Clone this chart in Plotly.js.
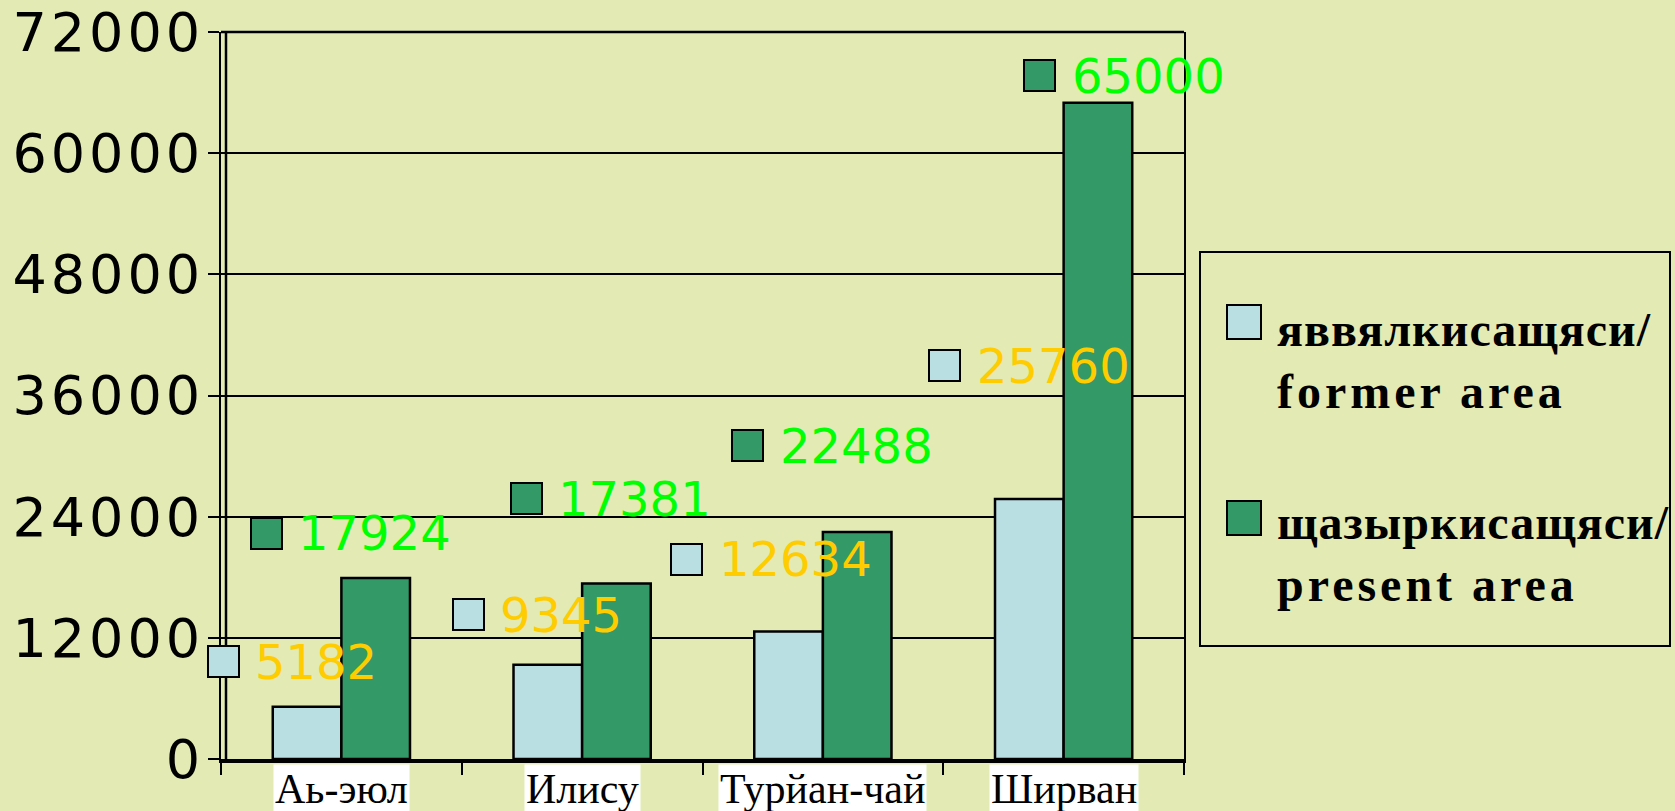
<!DOCTYPE html>
<html><head><meta charset="utf-8">
<script src="https://cdn.plot.ly/plotly-3.0.1.min.js"></script>
<style>html,body{margin:0;padding:0;background:#E3EAB4;overflow:hidden;} #chart{width:1675px;height:811px;}</style>
</head><body><div id="chart"></div>
<script>
// ---- data ----
const categories = ["Аь-эюл", "Илису", "Турйан-чай", "Ширван"];
const formerArea = [5182, 9345, 12634, 25760];
const presentArea = [17924, 17381, 22488, 65000];
const formerName = ["яввялкисащяси/", "former area"];
const presentName = ["щазыркисащяси/", "present area"];
const yTickVals = [0, 12000, 24000, 36000, 48000, 60000, 72000];

// ---- label placement (pixel offsets from bar top at category centre) ----
const formerLabelShift = [[-118, 45], [-114, 50], [-136, 72], [-119, 133]];
const presentLabelShift = [[-75, 45], [-56, 85], [-75, 86], [-24, 27]];

const W = 1675, H = 811, M = {l: 221, r: 491, t: 32, b: 52};
const BG = '#E3EAB4', C1 = '#BADFE3', C2 = '#339966', L1 = '#FFCC00', L2 = '#00FF00';
const PW = W - M.l - M.r, PH = H - M.t - M.b;
const px = X => (X - M.l) / PW;
const py = Y => 1 - (Y - M.t) / PH;

function labelAnns(cat, val, shift, fill, color) {
  return [
    {xref: 'x', yref: 'y', x: cat, y: val, xshift: shift[0], yshift: shift[1], text: ' ',
     showarrow: false, width: 29, height: 29, bgcolor: fill, bordercolor: '#000', borderwidth: 2,
     borderpad: 0, xanchor: 'center', yanchor: 'middle', font: {size: 8}},
    {xref: 'x', yref: 'y', x: cat, y: val, xshift: shift[0] + 31, yshift: shift[1], text: String(val),
     showarrow: false, xanchor: 'left', yanchor: 'middle', borderpad: 0,
     font: {family: 'DejaVu Sans', size: 48, color: color}}
  ];
}

const annotations = [];
categories.forEach((c, i) => {
  annotations.push(...labelAnns(c, formerArea[i], formerLabelShift[i], C1, L1));
  annotations.push(...labelAnns(c, presentArea[i], presentLabelShift[i], C2, L2));
  annotations.push({xref: 'x', yref: 'paper', x: c, y: 0, yanchor: 'top', yshift: -5, xanchor: 'center',
    text: c, showarrow: false, bgcolor: '#FFFFFF', borderpad: 1,
    font: {family: 'Liberation Serif', size: 42, color: '#000'}});
});

// custom legend
const legendItems = [[formerName, C1, 322, 360], [presentName, C2, 518, 553]];
legendItems.forEach(([name, fill, sy, ty]) => {
  annotations.push({xref: 'paper', yref: 'paper', x: px(1244), y: py(sy), text: ' ', showarrow: false,
    width: 32, height: 32, bgcolor: fill, bordercolor: '#000', borderwidth: 2, borderpad: 0,
    xanchor: 'center', yanchor: 'middle', font: {size: 8}});
  annotations.push({xref: 'paper', yref: 'paper', x: px(1276), y: py(ty),
    text: '<b><span style="letter-spacing:1px">' + name[0] + '</span><br><span style="letter-spacing:4px">' + name[1] + '</span></b>',
    showarrow: false, xanchor: 'left', yanchor: 'middle', align: 'left', borderpad: 0,
    font: {family: 'Liberation Serif', size: 48, color: '#000'}});
});

const shapes = [
  {type: 'rect', xref: 'paper', yref: 'paper', x0: px(1200), x1: px(1670), y0: py(252), y1: py(646),
   line: {color: '#000', width: 2}, fillcolor: 'rgba(0,0,0,0)'},
  {type: 'line', xref: 'paper', yref: 'paper', xsizemode: 'pixel', xanchor: 0, x0: 5, x1: 5, y0: 0, y1: 1,
   line: {color: '#000', width: 2.5}},
  {type: 'line', xref: 'paper', yref: 'paper', x0: 0, x1: 1, y0: 1, y1: 1, line: {color: '#000', width: 2.5}}
];

const traces = [
  {type: 'bar', name: 'former area', x: categories, y: formerArea,
   marker: {color: C1, line: {color: '#000', width: 2.5}}},
  {type: 'bar', name: 'present area', x: categories, y: presentArea,
   marker: {color: C2, line: {color: '#000', width: 2.5}}}
];

const layout = {
  width: W, height: H, margin: M,
  paper_bgcolor: BG, plot_bgcolor: BG,
  showlegend: false, barmode: 'group', bargap: 0.43, bargroupgap: 0,
  xaxis: {type: 'category', range: [-0.5, categories.length - 0.5], autorange: false,
    showticklabels: false, ticks: 'outside', tickson: 'boundaries',
    ticklen: 12, tickwidth: 2, tickcolor: '#000', showline: true, linewidth: 4, linecolor: '#000',
    showgrid: false, zeroline: false},
  yaxis: {range: [0, 72000], autorange: false, tickvals: yTickVals,
    ticktext: yTickVals.map(v => '<span style="letter-spacing:4px">' + v + '</span>'),
    ticks: 'outside', ticklen: 11,
    tickwidth: 2, tickcolor: '#000', showline: true, linewidth: 2, linecolor: '#000', mirror: true,
    showgrid: true, gridcolor: '#000', gridwidth: 2, zeroline: false, ticklabelstandoff: -7,
    ticklabeloverflow: 'allow',
    tickfont: {family: 'DejaVu Sans', size: 54, color: '#000'}},
  annotations: annotations, shapes: shapes
};

Plotly.newPlot('chart', traces, layout, {displayModeBar: false, staticPlot: true});
</script>
</body></html>
